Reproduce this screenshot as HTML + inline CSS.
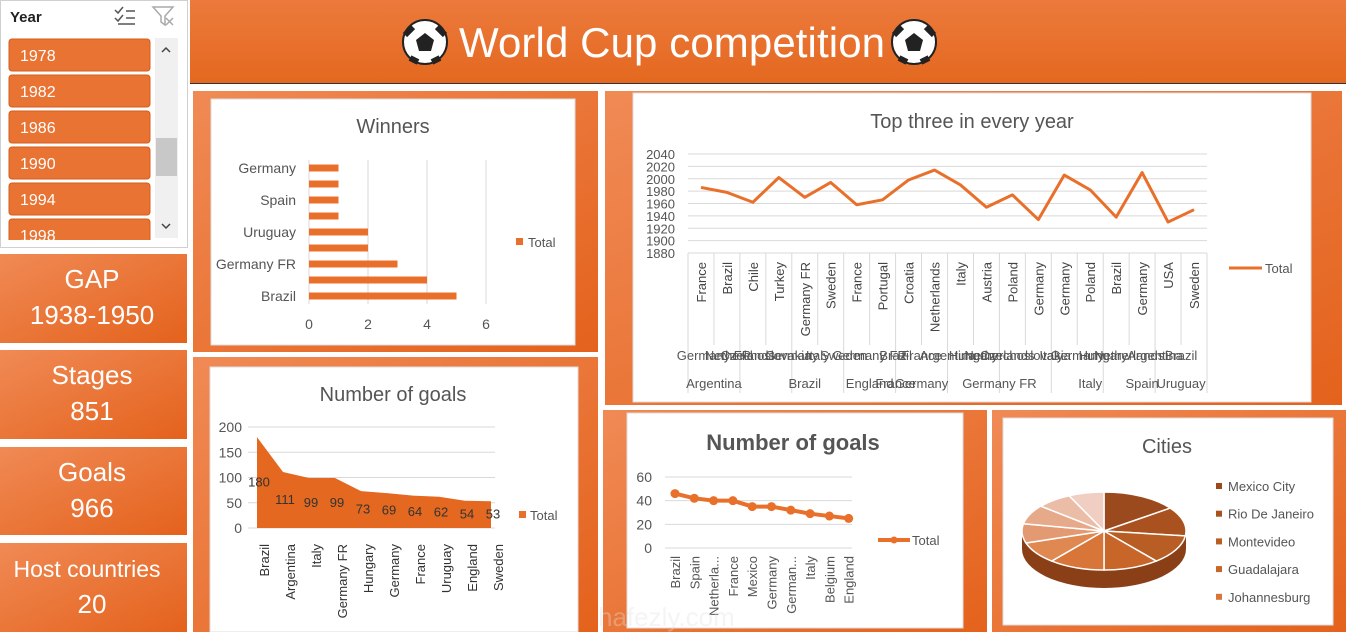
<!DOCTYPE html>
<html><head><meta charset="utf-8"><style>
html,body{margin:0;padding:0;background:#fff;width:1346px;height:632px;overflow:hidden;font-family:"Liberation Sans",sans-serif}
svg text{font-family:"Liberation Sans",sans-serif}
</style></head><body>
<svg id="s" width="1346" height="632" viewBox="0 0 1346 632" xmlns="http://www.w3.org/2000/svg">
<defs>
<linearGradient id="og" x1="0" y1="0" x2="1" y2="1"><stop offset="0" stop-color="#f08a55"/><stop offset="1" stop-color="#e4621c"/></linearGradient>
<linearGradient id="hg" x1="0" y1="0" x2="0" y2="1"><stop offset="0" stop-color="#ec7a3c"/><stop offset="1" stop-color="#e4681f"/></linearGradient>
<clipPath id="sc"><rect x="0" y="0" width="188" height="240"/></clipPath>
</defs>
<rect x="190" y="0" width="1156" height="84" fill="url(#hg)"/>
<line x1="190" y1="83.5" x2="1346" y2="83.5" stroke="#333" stroke-width="1"/>
<g><circle cx="425" cy="42" r="22" fill="#fff" stroke="#222" stroke-width="2"/><polygon points="425,33 434,40 431,51 419,51 416,40" fill="#222"/><path d="M405,35 l8,-8 M445,35 l-8,-8 M410,58 l8,4 M440,58 l-8,4" stroke="#222" stroke-width="6"/></g>
<g><circle cx="914" cy="42" r="22" fill="#fff" stroke="#222" stroke-width="2"/><polygon points="914,33 923,40 920,51 908,51 905,40" fill="#222"/><path d="M894,35 l8,-8 M934,35 l-8,-8 M899,58 l8,4 M929,58 l-8,4" stroke="#222" stroke-width="6"/></g>
<text x="672" y="57" font-size="42" fill="#fff" text-anchor="middle" textLength="426">World Cup competition</text>

<g>
<rect x="0.5" y="0.5" width="187" height="247" fill="#fff" stroke="#d0d0d0"/>
<text x="10" y="22" font-size="15" font-weight="bold" fill="#222">Year</text>
<g stroke="#555" stroke-width="1.5" fill="none"><path d="M115,10 l3,3 l5,-6 M115,18 l3,3 l5,-6 M126,11 h9 M126,18 h9 M118,24 h17"/></g>
<g stroke="#aaa" stroke-width="1.5" fill="none"><path d="M153,7 h20 l-8,9 v9 l-4,-3 v-6 z M166,18 l7,7 M173,18 l-7,7"/></g>
<rect x="155" y="38" width="23" height="200" fill="#f0f0f0"/>
<rect x="156" y="138" width="21" height="38" fill="#c8c8c8"/>
<path d="M162,52 l4,-4 l4,4 M162,224 l4,4 l4,-4" stroke="#444" stroke-width="1.5" fill="none"/>
<g id="slicerItems" clip-path="url(#sc)"></g>
</g>

<g id="kpis"></g>

<rect x="193" y="91" width="405" height="261" fill="url(#og)"/>
<rect x="211" y="99" width="364" height="246" fill="#fff" stroke="#ddd"/>
<rect x="193" y="357" width="405" height="275" fill="url(#og)"/>
<rect x="210" y="367" width="368" height="265" fill="#fff" stroke="#ddd"/>
<rect x="605" y="91" width="737" height="314" fill="url(#og)"/>
<rect x="633" y="93" width="678" height="309" fill="#fff" stroke="#ddd"/>
<rect x="603" y="410" width="384" height="222" fill="url(#og)"/>
<rect x="627" y="413" width="336" height="215" fill="#fff" stroke="#ddd"/>
<rect x="992" y="410" width="354" height="222" fill="url(#og)"/>
<rect x="1003" y="418" width="330" height="207" fill="#fff" stroke="#ddd"/>

<text x="393" y="133" font-size="20" fill="#555" text-anchor="middle">Winners</text>
<g id="winners"></g>
<text x="393" y="401" font-size="20" fill="#555" text-anchor="middle">Number of goals</text>
<g id="goalsArea"></g>
<text x="972" y="128" font-size="20" fill="#555" text-anchor="middle">Top three in every year</text>
<g id="top3"></g>
<text x="793" y="450" font-size="22" font-weight="bold" fill="#555" text-anchor="middle">Number of goals</text>
<g id="goalsLine"></g>
<text x="1167" y="453" font-size="20" fill="#555" text-anchor="middle">Cities</text>
<g id="pie"></g>
<text x="598" y="626" font-size="26" fill="#e0e0e0" opacity="0.35">hafezly.com</text>
</svg>
<script>
const slicerYears=["1978","1982","1986","1990","1994","1998"];
const kpiLabels=["GAP","Stages","Goals","Host countries"];
const kpiValues=["1938-1950","851","966","20"];
const winnerCats=["Brazil","Italy","Germany FR","Argentina","Uruguay","France","Spain","England","Germany"];
const winnerVals=[5,4,3,2,2,1,1,1,1];
const winnerTicks=[0,2,4,6];
const goalCats=["Brazil","Argentina","Italy","Germany FR","Hungary","Germany","France","Uruguay","England","Sweden"];
const goalVals=[180,111,99,99,73,69,64,62,54,53];
const goalTicks=[0,50,100,150,200];
const top3Cats=["France","Brazil","Chile","Turkey","Germany FR","Sweden","France","Portugal","Croatia","Netherlands","Italy","Austria","Poland","Germany","Germany","Poland","Brazil","Germany","USA","Sweden"];
const top3Vals=[1986,1978,1962,2002,1970,1994,1958,1966,1998,2014,1990,1954,1974,1934,2006,1982,1938,2010,1930,1950];
const top3Ticks=[1880,1900,1920,1940,1960,1980,2000,2020,2040];
const top3Mid=["Germany FR","Netherlands","Czechoslovakia","Germany","Italy","Sweden","Germany FR","Brazil","France","Argentina","Hungary","Netherlands","Czechoslovakia","Italy","Germany","Hungary","Netherlands","Argentina","Brazil"];
const top3Top=["Argentina","Brazil","England","France","Germany","Germany FR","Italy","Spain","Uruguay"];
const top3TopIdx=[1,4.5,7,8,9,12,15.5,17.5,19];
const lineCats=["Brazil","Spain","Netherla...","France","Mexico","Germany","German...","Italy","Belgium","England"];
const lineVals=[46,42,40,40,35,35,32,29,27,25];
const lineTicks=[0,20,40,60];
const pieCats=["Mexico City","Rio De Janeiro","Montevideo","Guadalajara","Johannesburg","City6","City7","City8","City9","City10"];
const pieVals=[15,12,12,11,11,9,8,8,7,7];

const NS="http://www.w3.org/2000/svg";
function mk(tag,attrs,parent,txt){const e=document.createElementNS(NS,tag);for(const k in attrs)e.setAttribute(k,attrs[k]);if(txt!==undefined)e.textContent=txt;parent.appendChild(e);return e;}
const $=id=>document.getElementById(id);
const OR="#e8702a";

slicerYears.forEach((y,i)=>{const g=mk('g',{},$('slicerItems'));


const yy=39+i*36;mk('rect',{x:9,y:yy,width:141,height:32,rx:3,fill:"#e97333",stroke:"#d45e1e"},g);
mk('text',{x:20,y:yy+22,'font-size':16,fill:"#fff"},g,y);});

const kpiY=[254,350,447,543],kpiH=[89,89,88,89];
kpiLabels.forEach((l,i)=>{const g=mk('g',{},$('kpis'));


mk('rect',{x:0,y:kpiY[i],width:187,height:kpiH[i],fill:"url(#og)"},g);
mk('text',{x:i==3?87:92,y:kpiY[i]+34,'font-size':i==3?23:26,fill:"#fff",'text-anchor':"middle"},g,l);
mk('text',{x:92,y:kpiY[i]+70,'font-size':26,fill:"#fff",'text-anchor':"middle"},g,kpiValues[i]);});

(function(){const G=$('winners');const x0=309,xs=29.5,yb=296,step=16;
const X=v=>x0+v*xs,Y=i=>yb-i*step;
winnerTicks.forEach(t=>{mk('line',{x1:X(t),x2:X(t),y1:160,y2:304,stroke:"#d9d9d9"},G);mk('text',{x:X(t),y:329,'font-size':14,fill:"#555",'text-anchor':"middle"},G,t);});
winnerCats.forEach((c,i)=>{const r=mk('rect',{x:X(0),y:Y(i)-3.5,width:X(winnerVals[i])-X(0),height:7,fill:OR},G);


if(i%2==0)mk('text',{x:296,y:Y(i)+5,'font-size':14,fill:"#555",'text-anchor':"end"},G,c);});
mk('rect',{x:516,y:238,width:7,height:7,fill:OR},G);mk('text',{x:528,y:247,'font-size':13,fill:"#555"},G,"Total");})();

(function(){const G=$('goalsArea');const x0=257,dx=26,y0=528,k=0.505;
const X=i=>x0+i*dx,Y=v=>y0-v*k;
goalTicks.forEach(t=>{mk('line',{x1:248,x2:495,y1:Y(t),y2:Y(t),stroke:"#d9d9d9"},G);mk('text',{x:242,y:Y(t)+5,'font-size':14,fill:"#555",'text-anchor':"end"},G,t);});
let d='M'+X(0)+','+Y(0);goalVals.forEach((v,i)=>d+=' L'+X(i)+','+Y(v));d+=' L'+X(goalVals.length-1)+','+Y(0)+'Z';
const a=mk('path',{d:d,fill:"#e4681f"},G);


goalVals.forEach((v,i)=>{
mk('text',{x:X(i)+2,y:(Y(v)+y0)/2+4,'font-size':13,fill:"#333",'text-anchor':"middle"},G,v);
mk('text',{x:X(i),y:548,'font-size':13,fill:"#333",transform:'rotate(-90 '+(X(i)+4)+' 540)','text-anchor':'end'},G,goalCats[i]);});
mk('rect',{x:519,y:511,width:7,height:7,fill:OR},G);mk('text',{x:530,y:520,'font-size':13,fill:"#555"},G,"Total");})();

(function(){const G=$('top3');const x0=688,w=25.95,y0=253,k=99/160;
const X=i=>x0+(i+0.5)*w,Y=v=>y0-(v-1880)*k;
top3Ticks.forEach(t=>{mk('line',{x1:x0,x2:x0+20*w,y1:Y(t),y2:Y(t),stroke:"#d9d9d9"},G);mk('text',{x:675,y:Y(t)+5,'font-size':13,fill:"#555",'text-anchor':"end"},G,t);});
for(let i=0;i<=20;i++)mk('line',{x1:x0+i*w,x2:x0+i*w,y1:253,y2:i%2==0?393:345,stroke:"#d9d9d9"},G);
let d='';top3Vals.forEach((v,i)=>d+=(i?' L':'M')+X(i)+','+Y(v));
const p=mk('path',{d:d,fill:"none",stroke:OR,'stroke-width':3,'stroke-linejoin':'round'},G);


top3Cats.forEach((c,i)=>mk('text',{x:X(i)+5,y:262,'font-size':13,fill:"#444",transform:'rotate(-90 '+(X(i)+5)+' 262)','text-anchor':'end'},G,c));
top3Mid.forEach((c,i)=>mk('text',{x:X(i)+w/2,y:360,'font-size':13,fill:"#555",'text-anchor':"middle"},G,c));
top3Top.forEach((c,i)=>mk('text',{x:x0+top3TopIdx[i]*w,y:388,'font-size':13,fill:"#555",'text-anchor':"middle"},G,c));
mk('line',{x1:1229,x2:1262,y1:268,y2:268,stroke:OR,'stroke-width':3},G);mk('text',{x:1265,y:273,'font-size':13,fill:"#555"},G,"Total");})();

(function(){const G=$('goalsLine');const x0=675,dx=19.3,y0=548,k=71/60;
const X=i=>x0+i*dx,Y=v=>y0-v*k;
lineTicks.forEach(t=>{mk('line',{x1:665,x2:852,y1:Y(t),y2:Y(t),stroke:"#d9d9d9"},G);mk('text',{x:652,y:Y(t)+5,'font-size':14,fill:"#555",'text-anchor':"end"},G,t);});
let d='';lineVals.forEach((v,i)=>d+=(i?' L':'M')+X(i)+','+Y(v));
const p=mk('path',{d:d,fill:"none",stroke:OR,'stroke-width':4},G);


lineVals.forEach((v,i)=>{mk('circle',{cx:X(i),cy:Y(v),r:4.5,fill:OR},G);
mk('text',{x:X(i)+5,y:556,'font-size':13,fill:"#555",transform:'rotate(-90 '+(X(i)+5)+' 556)','text-anchor':'end'},G,lineCats[i]);});
mk('line',{x1:878,x2:910,y1:540,y2:540,stroke:OR,'stroke-width':4},G);mk('circle',{cx:894,cy:540,r:3.5,fill:OR},G);
mk('text',{x:912,y:545,'font-size':13,fill:"#555"},G,"Total");})();

(function(){const G=$('pie');const cx=1104,cy=531,rx=82,ry=39,dep=18;
const cols=["#9b4a1e","#a9521f","#b85d24","#c8662a","#d8763a","#e08852","#e39a72","#e6aa8a","#ebbca6","#f0cfc2"];
const tot=pieVals.reduce((a,b)=>a+b,0);
const P=a=>[cx+rx*Math.sin(a),cy-ry*Math.cos(a)];
let sd='M'+(cx-rx)+','+cy+' A'+rx+','+ry+' 0 0 0 '+(cx+rx)+','+cy+' L'+(cx+rx)+','+(cy+dep)+' A'+rx+','+ry+' 0 0 1 '+(cx-rx)+','+(cy+dep)+'Z';
mk('path',{d:sd,fill:"#8a3f16"},G);
let a=0;pieVals.forEach((v,i)=>{const b=a+v/tot*2*Math.PI;const p1=P(a),p2=P(b);
const s=mk('path',{d:'M'+cx+','+cy+' L'+p1[0]+','+p1[1]+' A'+rx+','+ry+' 0 '+((b-a)>Math.PI?1:0)+' 1 '+p2[0]+','+p2[1]+'Z',fill:cols[i],stroke:"#fff",'stroke-width':1.5},G);


a=b;});
pieCats.slice(0,5).forEach((c,i)=>{const y=487+i*27.7;mk('rect',{x:1216,y:y-4,width:6,height:6,fill:cols[i]},G);
const t=mk('text',{x:1228,y:y+4,'font-size':13,fill:"#555"},G,c);

});})();
</script>
</body></html>
